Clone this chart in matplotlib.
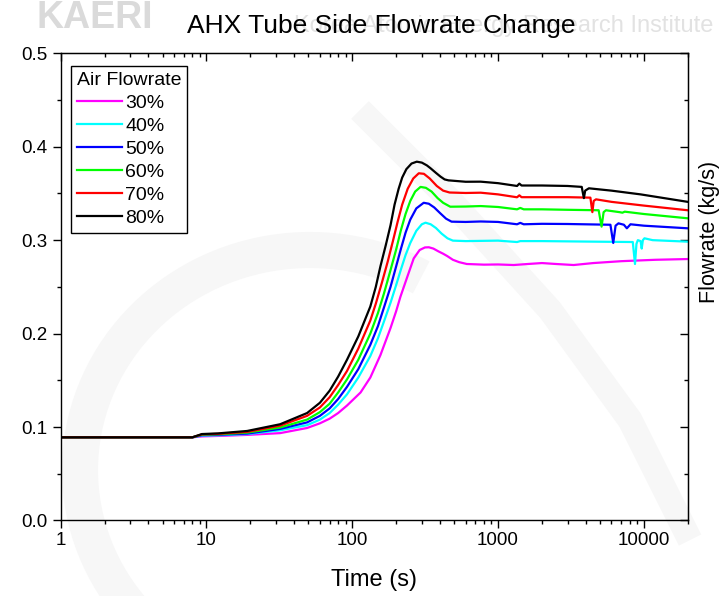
import matplotlib.pyplot as plt
from matplotlib.lines import Line2D
from matplotlib.patches import Arc
from matplotlib.ticker import FixedLocator, MultipleLocator, NullFormatter
from matplotlib.transforms import IdentityTransform

plt.rcParams['font.family'] = ['Liberation Sans', 'DejaVu Sans']

# AHX tube side flowrate (kg/s) against time (s) for each air flowrate
labels = ['30%', '40%', '50%', '60%', '70%', '80%']
colors = ['#ff00ff', '#00ffff', '#0000ff', '#00ff00', '#ff0000', '#000000']

t_30 = [1, 8.0, 9.3, 12, 19, 32, 49, 60, 70, 80, 92, 114, 133, 156, 183, 200, 214, 240, 264,
        290, 315, 335, 360, 390, 420, 448, 490, 540, 610, 800, 1000, 1280, 1600, 2000, 2500,
        3300, 4500, 7000, 12000, 20000]
q_30 = [0.089, 0.089, 0.090, 0.0905, 0.0916, 0.0935, 0.099, 0.104, 0.109, 0.115, 0.123, 0.137,
        0.153, 0.177, 0.206, 0.224, 0.2395, 0.262, 0.2805, 0.2895, 0.2922, 0.2924, 0.291,
        0.288, 0.2855, 0.283, 0.279, 0.2765, 0.2745, 0.2738, 0.274, 0.2734, 0.2745, 0.2755,
        0.2745, 0.2734, 0.2755, 0.2775, 0.279, 0.2798]

t_40 = [1, 8.0, 9.3, 12, 19, 32, 49, 60, 70, 80, 92, 110, 133, 150, 165, 183, 200, 215, 232,
        250, 275, 300, 318, 345, 375, 410, 450, 490, 600, 1000, 1350, 1420, 2000, 4000, 8400,
        8700, 8900, 9100, 9500, 9670, 9850, 10100, 11500, 20000]
q_40 = [0.089, 0.089, 0.0908, 0.0912, 0.0925, 0.0965, 0.102, 0.108, 0.115, 0.124, 0.135, 0.153,
        0.176, 0.195, 0.213, 0.233, 0.252, 0.268, 0.284, 0.297, 0.310, 0.317, 0.3187, 0.317,
        0.313, 0.307, 0.302, 0.2995, 0.299, 0.2995, 0.298, 0.299, 0.299, 0.2985, 0.298, 0.2745,
        0.296, 0.300, 0.299, 0.291, 0.300, 0.302, 0.300, 0.2984]

t_50 = [1, 8.0, 9.3, 12, 19, 32, 49, 60, 70, 80, 92, 110, 133, 150, 165, 183, 200, 215, 232,
        250, 275, 309, 335, 365, 400, 440, 480, 600, 760, 1000, 1350, 1420, 1500, 2000, 3000,
        5900, 6170, 6400, 6700, 7300, 7650, 8100, 10000, 20000]
q_50 = [0.089, 0.089, 0.0913, 0.0917, 0.093, 0.098, 0.105, 0.112, 0.120, 0.130, 0.143, 0.162,
        0.188, 0.208, 0.228, 0.25, 0.272, 0.29, 0.308, 0.322, 0.334, 0.340, 0.339, 0.335,
        0.329, 0.323, 0.3198, 0.3195, 0.320, 0.3195, 0.317, 0.3185, 0.317, 0.3175, 0.3173,
        0.3165, 0.297, 0.3155, 0.318, 0.3165, 0.3127, 0.317, 0.3155, 0.3127]

t_60 = [1, 8.0, 9.3, 12, 19, 32, 49, 60, 70, 80, 92, 110, 133, 150, 165, 183, 200, 215, 232,
        250, 270, 294, 320, 350, 385, 420, 470, 600, 760, 1000, 1350, 1420, 1500, 2000, 3000,
        4900, 5130, 5300, 5500, 6800, 7130, 7400, 10000, 20000]
q_60 = [0.089, 0.089, 0.0918, 0.0922, 0.094, 0.0995, 0.108, 0.116, 0.125, 0.137, 0.151, 0.172,
        0.200, 0.222, 0.243, 0.268, 0.29, 0.31, 0.328, 0.342, 0.352, 0.357, 0.356, 0.352,
        0.345, 0.340, 0.3358, 0.336, 0.3365, 0.3355, 0.333, 0.3345, 0.333, 0.333, 0.3325,
        0.332, 0.3145, 0.330, 0.332, 0.330, 0.3294, 0.3305, 0.328, 0.3234]

t_70 = [1, 8.0, 9.3, 12, 19, 32, 49, 60, 70, 80, 92, 110, 133, 145, 160, 175, 190, 205, 220,
        240, 262, 286, 310, 340, 380, 420, 465, 600, 760, 1000, 1350, 1400, 1450, 2000, 3000,
        4300, 4436, 4530, 4700, 6000, 10000, 20000]
q_70 = [0.089, 0.089, 0.0922, 0.0927, 0.0948, 0.1015, 0.112, 0.121, 0.132, 0.145, 0.160, 0.184,
        0.214, 0.232, 0.255, 0.277, 0.299, 0.320, 0.338, 0.355, 0.366, 0.3716, 0.371, 0.366,
        0.358, 0.353, 0.351, 0.3505, 0.3508, 0.349, 0.3459, 0.348, 0.346, 0.346, 0.346,
        0.3455, 0.330, 0.342, 0.3437, 0.341, 0.337, 0.332]

t_80 = [1, 8.0, 9.3, 12, 19, 32, 49, 60, 70, 80, 92, 110, 133, 145, 156, 170, 183, 195, 208,
        220, 235, 255, 277, 300, 325, 344, 375, 403, 430, 457, 600, 760, 1000, 1350, 1400,
        1450, 2000, 3000, 3750, 3880, 3960, 4200, 6000, 9500, 20000]
q_80 = [0.089, 0.089, 0.0925, 0.0932, 0.0958, 0.103, 0.115, 0.126, 0.139, 0.154, 0.172, 0.197,
        0.229, 0.250, 0.272, 0.295, 0.316, 0.338, 0.355, 0.367, 0.376, 0.382, 0.384, 0.383,
        0.380, 0.377, 0.372, 0.368, 0.365, 0.364, 0.3625, 0.3626, 0.361, 0.358, 0.3605,
        0.3585, 0.3585, 0.358, 0.357, 0.345, 0.353, 0.3555, 0.353, 0.349, 0.341]

times = [t_30, t_40, t_50, t_60, t_70, t_80]
flows = [q_30, q_40, q_50, q_60, q_70, q_80]

x_ticks = [1, 10, 100, 1000, 10000]
x_tick_labels = ['1', '10', '100', '1000', '10000']
y_ticks = [0.0, 0.1, 0.2, 0.3, 0.4, 0.5]

fig = plt.figure(figsize=(7.22, 5.96), dpi=100)

# faint logo swooshes and institute name in the background (pixel coordinates)
fig.patches.append(Arc((310, 126), 460, 440, theta1=60, theta2=225, transform=IdentityTransform(),
                       color='#f7f7f7', lw=26, zorder=-2))
fig.lines.append(Line2D([360, 450, 550, 630, 690], [486, 396, 286, 176, 56],
                        transform=IdentityTransform(), color='#f7f7f7', lw=18, zorder=-2,
                        solid_capstyle='butt'))
fig.text(0.05, 1.0, 'KAERI', fontsize=27, fontweight='bold', color='#dadada', va='top', zorder=-1)
fig.text(0.988, 0.975, 'Korea Atomic Energy Research Institute', fontsize=17, color='#e2e2e2',
         ha='right', va='top', zorder=-1)

ax = fig.add_axes([0.0841, 0.1267, 0.8684, 0.7839])
ax.set_facecolor('none')

for t, q, lab, c in zip(times, flows, labels, colors):
    ax.plot(t, q, color=c, lw=1.6, label=lab)

ax.set_xscale('log')
ax.set_xlim(1, 20000)
ax.set_ylim(0, 0.5)
ax.xaxis.set_major_locator(FixedLocator(x_ticks))
ax.set_xticklabels(x_tick_labels)
ax.yaxis.set_major_locator(FixedLocator(y_ticks))
ax.yaxis.set_minor_locator(MultipleLocator(0.05))
ax.set_yticklabels([f'{v:.1f}' for v in y_ticks])
ax.tick_params(which='major', direction='out', length=5.5, width=1, labelsize=13.5)
ax.tick_params(axis='x', which='major', pad=2.5)
ax.tick_params(axis='y', which='major', pad=4)
ax.tick_params(which='minor', direction='out', length=3, width=1)
for sp in ax.spines.values():
    sp.set_linewidth(1)

# mirrored ticks on the top and right, pointing inwards
top = ax.secondary_xaxis('top')
top.xaxis.set_major_locator(FixedLocator(x_ticks))
top.xaxis.set_major_formatter(NullFormatter())
top.xaxis.set_minor_formatter(NullFormatter())
top.tick_params(which='major', direction='in', length=5.5, width=1)
top.tick_params(which='minor', direction='in', length=3, width=1)
right = ax.secondary_yaxis('right')
right.yaxis.set_major_locator(FixedLocator(y_ticks))
right.yaxis.set_minor_locator(MultipleLocator(0.05))
right.yaxis.set_major_formatter(NullFormatter())
right.tick_params(which='major', direction='in', length=5.5, width=1)
right.tick_params(which='minor', direction='in', length=3, width=1)

ax.set_title('AHX Tube Side Flowrate Change', fontsize=19, pad=14.5, x=0.512)
ax.set_xlabel('Time (s)', fontsize=17, labelpad=14.5)
ax.text(1.034, 0.617, 'Flowrate (kg/s)', fontsize=15.5, rotation=90, ha='center', va='center',
        transform=ax.transAxes)

leg = ax.legend(title='Air Flowrate', loc='upper left', bbox_to_anchor=(0.0164, 0.9728),
                borderaxespad=0, fontsize=14, title_fontsize=14, frameon=True, fancybox=False,
                edgecolor='black', framealpha=1, handlelength=2.3, handletextpad=0.2,
                labelspacing=0.28, borderpad=0.3, alignment='left')
leg.get_frame().set_linewidth(1)

fig.savefig('out.png', dpi=100)
